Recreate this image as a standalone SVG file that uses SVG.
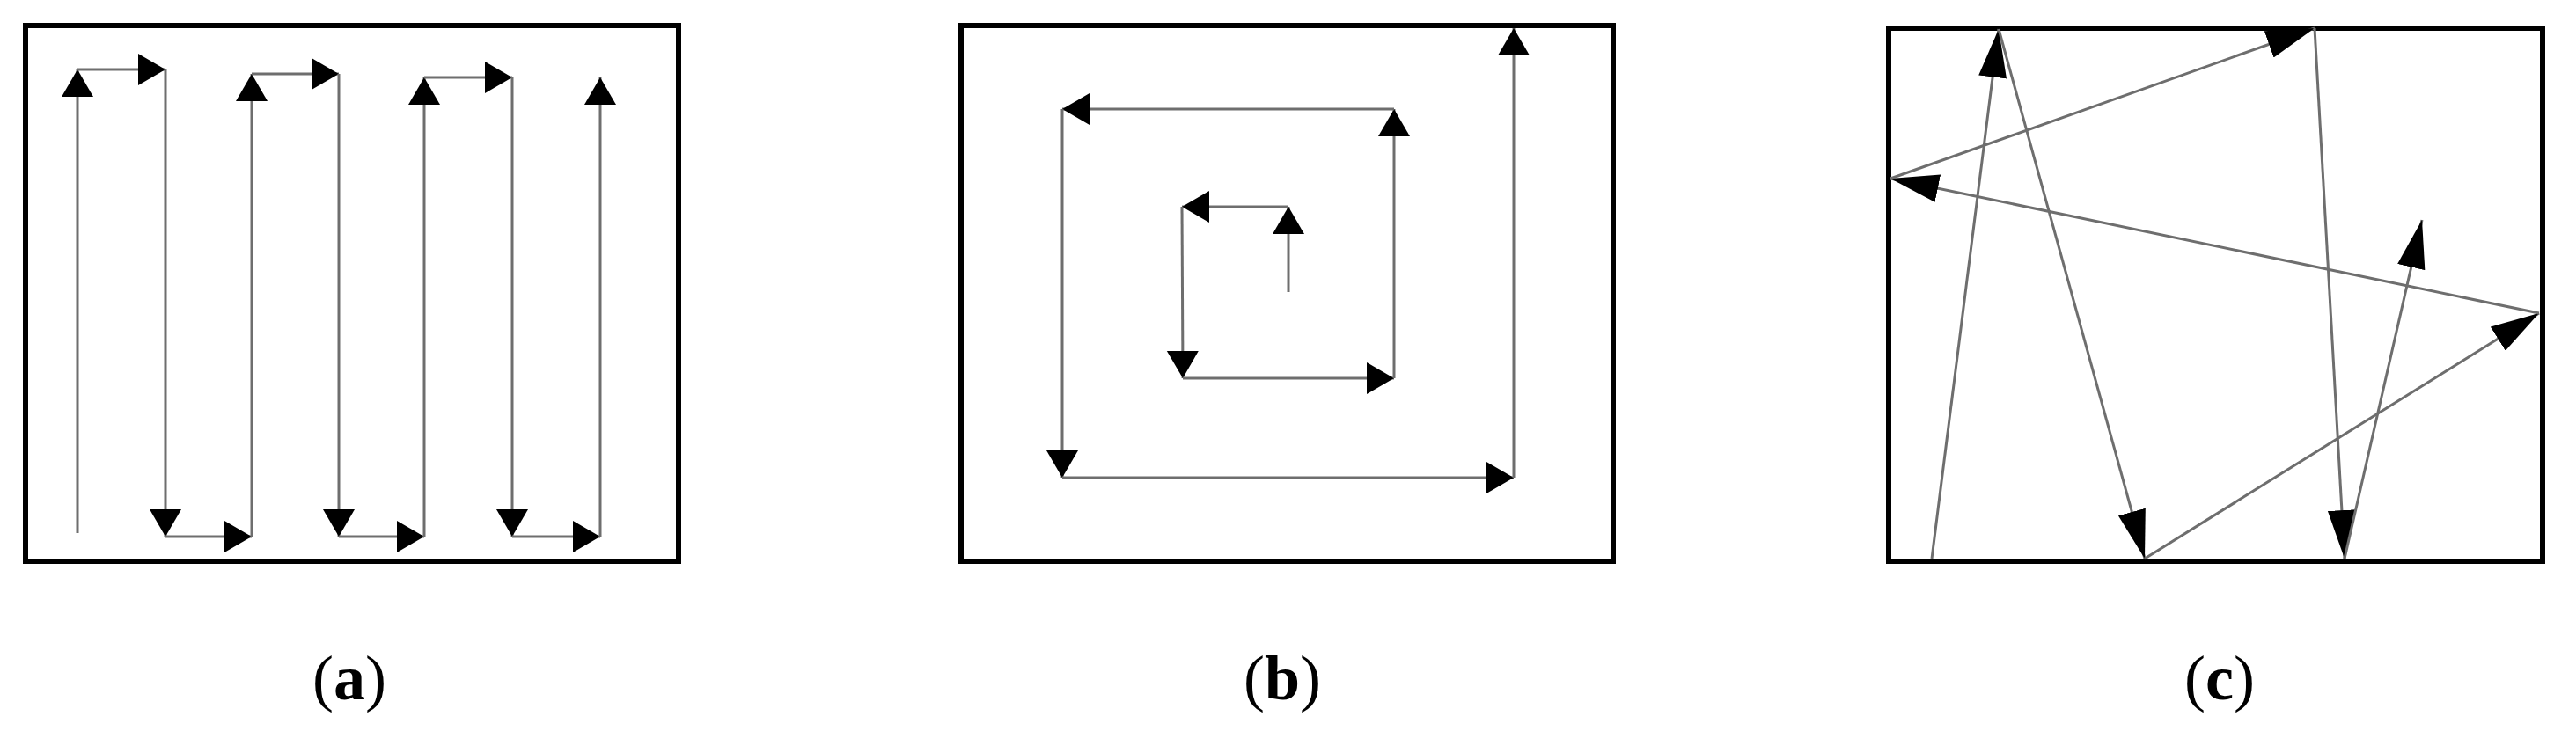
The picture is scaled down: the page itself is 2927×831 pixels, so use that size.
<svg xmlns="http://www.w3.org/2000/svg" width="2927" height="831" viewBox="0 0 2927 831">
<style>
.box{fill:none;stroke:#000;stroke-width:6}
.c{stroke:#6e6e6e;stroke-width:3;fill:none}
.ab{marker-end:url(#h1)}
.cc{marker-end:url(#h2)}
.lab{font-family:"Liberation Serif",serif;font-size:72px;text-anchor:middle;fill:#000}
</style>
<defs>
<marker id="h1" markerUnits="userSpaceOnUse" markerWidth="32" markerHeight="38" refX="31" refY="18" orient="auto" viewBox="0 0 32 36"><path d="M0,0 L31,18 L0,36 Z" fill="#000"/></marker>
<marker id="h2" markerUnits="userSpaceOnUse" markerWidth="56" markerHeight="34" refX="55" refY="16" orient="auto" viewBox="0 0 56 32"><path d="M0,0 L55,16 L0,32 Z" fill="#000"/></marker>
</defs>
<rect width="2927" height="831" fill="#fff"/>
<g id="panel-a">
<rect class="box" x="29" y="29" width="742" height="609"/>
<text class="lab" x="397" y="795">(<tspan font-weight="bold">a</tspan>)</text>
</g>
<g id="panel-b">
<rect class="box" x="1092" y="29" width="741" height="609"/>
<text class="lab" x="1457" y="795">(<tspan font-weight="bold">b</tspan>)</text>
</g>
<g id="panel-c">
<rect class="box" x="2146" y="32" width="743" height="606"/>
<text class="lab" x="2522" y="795">(<tspan font-weight="bold">c</tspan>)</text>
</g>
<g id="connectors">
<g class="c ab">
<line x1="88" y1="606" x2="88" y2="79"/>
<line x1="88" y1="79" x2="188" y2="79"/>
<line x1="188" y1="79" x2="188" y2="610"/>
<line x1="188" y1="610" x2="286" y2="610"/>
<line x1="286" y1="610" x2="286" y2="84"/>
<line x1="286" y1="84" x2="385" y2="84"/>
<line x1="385" y1="84" x2="385" y2="610"/>
<line x1="385" y1="610" x2="482" y2="610"/>
<line x1="482" y1="610" x2="482" y2="88"/>
<line x1="482" y1="88" x2="582" y2="88"/>
<line x1="582" y1="88" x2="582" y2="610"/>
<line x1="582" y1="610" x2="682" y2="610"/>
<line x1="682" y1="610" x2="682" y2="88"/>
<line x1="1464" y1="332" x2="1464" y2="235"/>
<line x1="1464" y1="235" x2="1343" y2="235"/>
<line x1="1343" y1="235" x2="1344" y2="430"/>
<line x1="1344" y1="430" x2="1584" y2="430"/>
<line x1="1584" y1="430" x2="1584" y2="124"/>
<line x1="1584" y1="124" x2="1207" y2="124"/>
<line x1="1207" y1="124" x2="1207" y2="543"/>
<line x1="1207" y1="543" x2="1720" y2="543"/>
<line x1="1720" y1="543" x2="1720" y2="32"/>
</g>
<g class="c cc">
<line x1="2195" y1="635" x2="2271" y2="33"/>
<line x1="2271" y1="33" x2="2437" y2="635"/>
<line x1="2437" y1="635" x2="2885" y2="356"/>
<line x1="2885" y1="356" x2="2148" y2="203"/>
<line x1="2148" y1="203" x2="2630" y2="32"/>
<line x1="2630" y1="32" x2="2664" y2="635"/>
<line x1="2664" y1="635" x2="2752" y2="250"/>
</g>
</g>
</svg>
